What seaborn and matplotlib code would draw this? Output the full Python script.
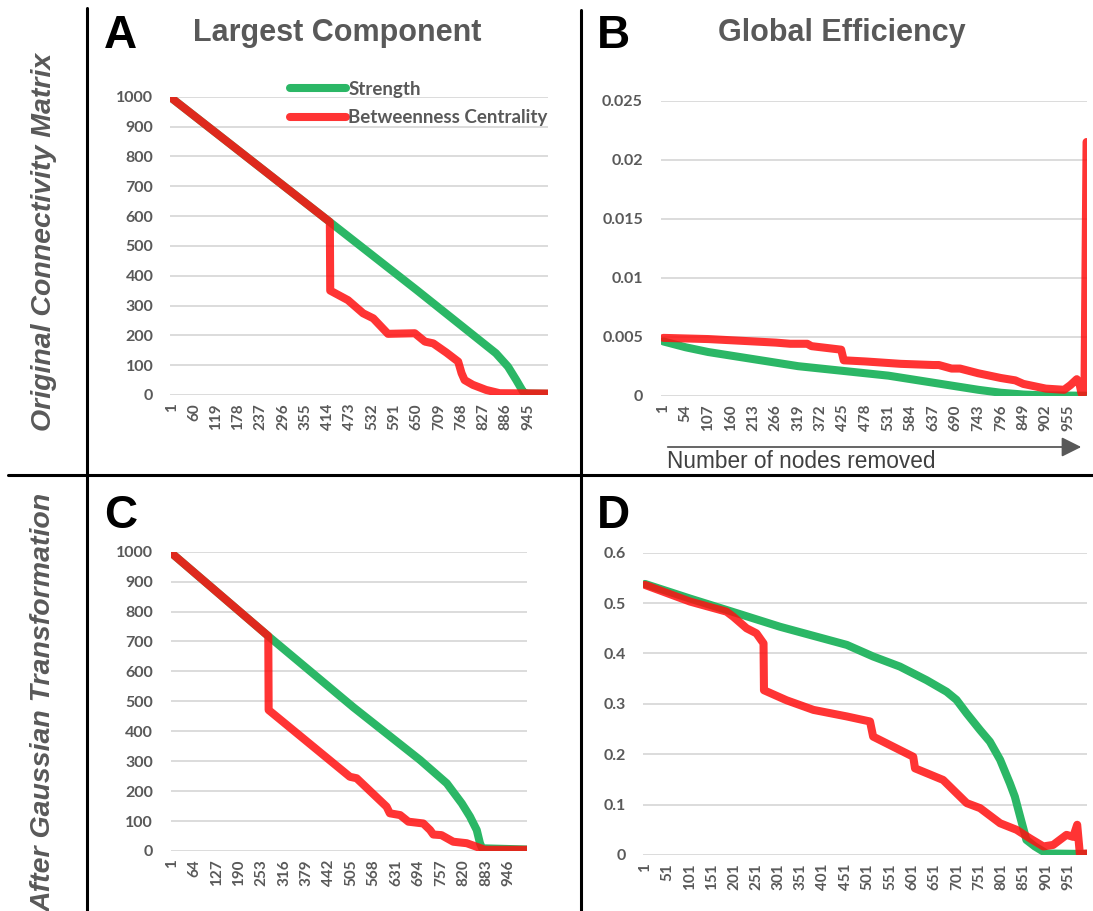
import matplotlib
matplotlib.use("Agg")
import matplotlib.pyplot as plt
from matplotlib.lines import Line2D
from matplotlib.patches import FancyArrowPatch
import seaborn as sns
import pandas as pd

# ---- series (node index removed -> measure) ----
series_names = ["Strength", "Betweenness Centrality"]

# A: largest component, original connectivity matrix
a_str_x = [1, 420, 650, 860, 892, 914, 932, 940, 998]
a_str_y = [995, 580, 352, 140, 95, 50, 11, 5, 4]
a_btw_x = [1, 420, 421, 468, 508, 535, 574, 645, 672, 694, 729, 760, 769, 777, 799, 834, 870, 998]
a_btw_y = [995, 580, 350, 318, 274, 257, 205, 207, 179, 173, 142, 112, 73, 50, 34, 17, 6, 5]

# B: global efficiency, original connectivity matrix
b_str_x = [1, 54, 107, 160, 213, 266, 319, 372, 425, 478, 531, 584, 637, 690, 743, 796, 849, 902, 998]
b_str_y = [0.0046, 0.0041, 0.0037, 0.0034, 0.0031, 0.0028, 0.0025, 0.0023, 0.0021, 0.0019,
           0.0017, 0.0014, 0.0011, 0.0008, 0.0005, 0.00025, 0.0001, 0.00002, 0.0]
b_btw_x = [1, 107, 213, 266, 300, 340, 350, 420, 426, 478, 560, 637, 650, 680, 700, 743, 796,
           830, 849, 902, 945, 960, 975, 982, 986, 993, 998]
b_btw_y = [0.0049, 0.0048, 0.0046, 0.0045, 0.0044, 0.0044, 0.0042, 0.0039, 0.0030, 0.0029,
           0.0027, 0.0026, 0.0026, 0.0023, 0.0023, 0.0019, 0.0015, 0.0013, 0.0010, 0.0006,
           0.0005, 0.0009, 0.0014, 0.0009, 0.0002, 0.0003, 0.0215]

# C: largest component, after Gaussian transformation
c_str_x = [1, 272, 511, 698, 773, 815, 838, 857, 866, 872, 1000]
c_str_y = [995, 718, 480, 304, 226, 159, 115, 70, 26, 9, 5]
c_btw_x = [1, 272, 273, 501, 520, 604, 613, 642, 665, 707, 726, 735, 758, 791, 829, 857, 880, 1000]
c_btw_y = [995, 718, 471, 248, 243, 148, 126, 120, 98, 92, 70, 55, 53, 31, 26, 14, 4, 4]

# D: global efficiency, after Gaussian transformation
d_str_x = [1, 102, 207, 304, 379, 454, 513, 573, 633, 678, 700, 723, 753, 775, 798, 820,
           831, 843, 857, 876, 902, 993]
d_str_y = [0.538, 0.509, 0.480, 0.453, 0.435, 0.417, 0.394, 0.374, 0.347, 0.324, 0.308,
           0.281, 0.248, 0.225, 0.189, 0.142, 0.116, 0.076, 0.030, 0.017, 0.003, 0.002]
d_btw_x = [1, 102, 184, 199, 229, 251, 267, 268, 319, 379, 454, 506, 513, 603, 607, 670, 685,
           723, 753, 798, 835, 865, 895, 917, 947, 962, 971, 977, 992]
d_btw_y = [0.536, 0.503, 0.483, 0.473, 0.450, 0.440, 0.420, 0.327, 0.307, 0.288, 0.275,
           0.265, 0.235, 0.195, 0.172, 0.149, 0.136, 0.103, 0.093, 0.063, 0.050, 0.033,
           0.017, 0.020, 0.040, 0.036, 0.060, 0.002, 0.003]

# ---- axis labels ----
a_xticks = [1, 60, 119, 178, 237, 296, 355, 414, 473, 532, 591, 650, 709, 768, 827, 886, 945]
b_xticks = [1, 54, 107, 160, 213, 266, 319, 372, 425, 478, 531, 584, 637, 690, 743, 796, 849, 902, 955]
c_xticks = [1, 64, 127, 190, 253, 316, 379, 442, 505, 568, 631, 694, 757, 820, 883, 946]
d_xticks = [1, 51, 101, 151, 201, 251, 301, 351, 401, 451, 501, 551, 601, 651, 701, 751, 801, 851, 901, 951]

comp_yticks = [0, 100, 200, 300, 400, 500, 600, 700, 800, 900, 1000]
b_yticks = [0, 0.005, 0.01, 0.015, 0.02, 0.025]
b_ylabels = ["0", "0.005", "0.01", "0.015", "0.02", "0.025"]
d_yticks = [0, 0.1, 0.2, 0.3, 0.4, 0.5, 0.6]
d_ylabels = ["0", "0.1", "0.2", "0.3", "0.4", "0.5", "0.6"]

col_titles = ["Largest Component", "Global Efficiency"]
row_titles = ["Original Connectivity Matrix", "After Gaussian Transformation"]
panel_letters = ["A", "B", "C", "D"]

GREEN = "#2BB766"
RED = "#FF1010"
GRID = "#D9D9D9"
TXT = "#595959"
LW = 5.8

sns.set_theme(style="white")
plt.rcParams["font.family"] = ["Lato", "DejaVu Sans"]

W, H = 1093, 911
fig = plt.figure(figsize=(W / 100, H / 100), dpi=100)


def add_axes_px(left, right, top, bottom):
    return fig.add_axes([left / W, 1 - bottom / H, (right - left) / W, (bottom - top) / H])


def draw_panel(ax, sx, sy, bx, by, xlim, yticks, ylabels, xticks, ypad):
    df_s = pd.DataFrame({"node": sx, "value": sy})
    df_b = pd.DataFrame({"node": bx, "value": by})
    sns.lineplot(data=df_s, x="node", y="value", ax=ax, color=GREEN, lw=LW,
                 sort=False, estimator=None, solid_capstyle="round",
                 solid_joinstyle="round", zorder=3)
    sns.lineplot(data=df_b, x="node", y="value", ax=ax, color=RED, lw=LW, alpha=0.85,
                 sort=False, estimator=None, solid_capstyle="round",
                 solid_joinstyle="round", zorder=4)
    ax.set_xlim(*xlim)
    ax.set_ylim(yticks[0], yticks[-1])
    ax.set_yticks(yticks)
    ax.set_yticklabels(ylabels)
    ax.set_xticks(xticks)
    ax.set_xticklabels([str(t) for t in xticks], rotation=90)
    ax.set_xlabel("")
    ax.set_ylabel("")
    for s in ax.spines.values():
        s.set_visible(False)
    ax.grid(axis="y", color=GRID, lw=1.3, zorder=0)
    ax.grid(axis="x", visible=False)
    ax.tick_params(axis="y", length=0, pad=ypad, labelsize=11.5, labelcolor=TXT)
    ax.tick_params(axis="x", length=0, pad=6, labelsize=11, labelcolor=TXT)
    for lab in ax.get_xticklabels() + ax.get_yticklabels():
        lab.set_fontweight("bold")
    ax.set_facecolor("none")


axA = add_axes_px(170, 548, 96.7, 395)
draw_panel(axA, a_str_x, a_str_y, a_btw_x, a_btw_y, (-3.5, 998), comp_yticks,
           [str(v) for v in comp_yticks], a_xticks, 12)

axB = add_axes_px(661, 1087, 100.7, 395.7)
draw_panel(axB, b_str_x, b_str_y, b_btw_x, b_btw_y, (-4.4, 999), b_yticks,
           b_ylabels, b_xticks, 13)

axC = add_axes_px(171, 527, 551.7, 851)
draw_panel(axC, c_str_x, c_str_y, c_btw_x, c_btw_y, (-1, 998), comp_yticks,
           [str(v) for v in comp_yticks], c_xticks, 13)

axD = add_axes_px(643, 1087, 552.7, 855)
draw_panel(axD, d_str_x, d_str_y, d_btw_x, d_btw_y, (-3.5, 993), d_yticks,
           d_ylabels, d_xticks, 12)

# legend in panel A
handles = [Line2D([], [], color=GREEN, lw=LW, solid_capstyle="round"),
           Line2D([], [], color=RED, lw=LW, alpha=0.85, solid_capstyle="round")]
leg = axA.legend(handles, series_names, loc="upper left",
                 bbox_to_anchor=(290 / W, 1 - 81 / H), bbox_transform=fig.transFigure,
                 frameon=False, borderpad=0, borderaxespad=0, handlelength=3.0,
                 handletextpad=0.12, labelspacing=0.6, fontsize=13.5)
for t in leg.get_texts():
    t.set_color(TXT)
    t.set_fontweight("bold")

# panel letters and column titles
narrow = ["Liberation Sans Narrow", "Liberation Sans", "DejaVu Sans"]
for letter, (px, py) in zip(panel_letters, [(104, 48), (597, 48), (104, 528), (597, 528)]):
    fig.text(px / W, 1 - py / H, letter, family=narrow, fontsize=33, fontweight="bold",
             color="black", ha="left", va="baseline")
for title, cx in zip(col_titles, [337, 842]):
    fig.text(cx / W, 1 - 41 / H, title, family=narrow, fontsize=22, fontweight="bold",
             color=TXT, ha="center", va="baseline")

# row titles on the left
sans = ["Liberation Sans", "DejaVu Sans"]
fig.text(44 / W, 1 - 242 / H, row_titles[0], family=sans, fontsize=20.5, fontweight="bold",
         fontstyle="italic", color=TXT, rotation=90, ha="center", va="center")
fig.text(44 / W, 1 - 493 / H, row_titles[1], family=sans, fontsize=20.5, fontweight="bold",
         fontstyle="italic", color=TXT, rotation=90, ha="center", va="top")

# divider lines
fig.add_artist(Line2D([87 / W, 87 / W], [0, 1 - 8 / H], color="black", lw=2.2,
                      transform=fig.transFigure))
fig.add_artist(Line2D([581 / W, 581 / W], [0, 1 - 10 / H], color="black", lw=2.2,
                      transform=fig.transFigure))
fig.add_artist(Line2D([8 / W, 1], [1 - 475 / H, 1 - 475 / H], color="black", lw=2.2,
                      transform=fig.transFigure))

# removal direction arrow under panel B
fig.add_artist(FancyArrowPatch(
    (665 / W, 1 - 447 / H), (1084 / W, 1 - 447 / H), transform=fig.transFigure,
    arrowstyle="-|>,head_length=12,head_width=6", color="#595959", lw=1.3,
    mutation_scale=1))
fig.text(667 / W, 1 - 468 / H, "Number of nodes removed", family=sans, fontsize=16.3,
         color="#404040", ha="left", va="baseline")

fig.savefig("out.png", dpi=100, facecolor="white")
